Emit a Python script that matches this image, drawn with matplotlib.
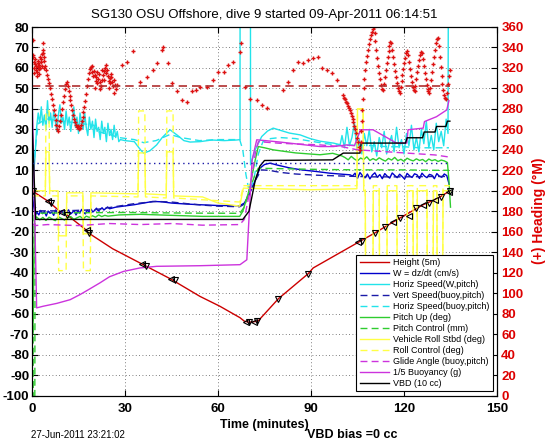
import matplotlib
matplotlib.use("Agg")
import matplotlib.pyplot as plt

plt.rcParams["font.family"] = ["Liberation Sans", "DejaVu Sans"]
plt.rcParams["axes.unicode_minus"] = False

# ---- data (time in minutes) ----
HEIGHT_T = [0, 5.3, 9, 11.2, 17.1, 18.2, 26, 35.9, 44.5, 54.2, 60.6, 67.1, 68.5, 70, 71.5, 73,
            79.5, 89.1, 90.7, 99.4, 105.8, 110.6, 116, 118.7, 126.2, 131, 134.8]
HEIGHT_V = [0, -5.2, -10.1, -11.7, -18.7, -20.6, -28.3, -36.1, -42.9, -51.6, -56.4, -62, -63.7,
            -64.2, -64, -63.5, -52.7, -40.5, -37.7, -30.2, -24.7, -20.6, -15.7, -13.3, -6.8, -3.6, 0]

TRI_LEFT_T = [5.3, 9.5, 17.6, 35.5, 44.8, 69, 71.5, 105.3, 116.5, 121.5, 126.2, 130, 134.5]
TRI_LEFT_V = [-5.2, -10.5, -19.3, -35.6, -43, -64, -64, -25, -15.2, -12.5, -7, -4.5, -0.5]
TRI_DOWN_T = [0.3, 6.2, 11.2, 18.4, 36.8, 46, 70, 72.5, 79.5, 89.1, 106.3, 110.6, 113.8, 118.7,
              124, 128, 132, 134.8]
TRI_DOWN_V = [0, -6, -11.7, -20.8, -36.5, -43.8, -64.3, -63.5, -52.7, -40.5, -24.4, -20.6, -17.8,
              -13.3, -8.5, -5.8, -3, 0]

W_T = [0, 0.5, 1.0, 1.6, 2.2, 2.8, 3.4, 4.0, 4.6, 5.2, 5.8, 6.4, 7.0, 7.6, 8.2, 8.8, 9.4, 10.0,
       10.6, 11.2, 11.8, 12.4, 13.0, 13.6, 14.2, 14.8, 15.4, 16.0, 16.6, 17.2, 17.8, 18.4, 19.0,
       19.6, 20.2, 20.8, 21.4, 22.0, 22.6, 23.2, 23.8, 24.4, 25.0,
       27, 30, 33, 36, 39, 42, 45, 50, 54, 60, 67, 68.5, 70, 72, 73.5, 75, 76.8, 79, 83, 87, 91.8,
       96, 100, 102.6,
       103.4, 104.2, 105, 105.8, 106.6, 107.4, 108.2, 109, 109.8, 110.6, 111.4, 112.2, 113, 113.8,
       114.6, 115.4, 116.2, 117, 117.8, 118.6, 119.4, 120.2, 121, 121.8, 122.6, 123.4, 124.2, 125,
       125.8, 126.6, 127.4, 128.2, 129, 129.8, 130.6, 131.4, 132.2, 133, 133.8, 134.6]
W_V = [0, -7, -12, -10.5, -11.8, -9.6, -11.2, -10.1, -12.3, -9.9, -11, -10.4, -12, -9.4, -10.9,
       -11.6, -9.8, -10.7, -12.1, -10.2, -9.3, -11.4, -10.6, -9.7, -11.8, -10, -10.9, -9.1, -10.5,
       -11.3, -9.5, -10.2, -8.8, -10.4, -9.6, -8.5, -9.9, -9.1, -8.3, -9.4, -8.6, -7.9, -8.8,
       -8, -7.4, -6.8, -6, -5.2, -5.4, -6, -6.5, -6.8, -7.2, -7.3, -6, -2, 5, 11, 12.8, 13.5, 12.6,
       11.2, 10.2, 9.4, 8.6, 8.1, 7.8,
       7.2, 8.6, 6.1, 8.9, 7.4, 6.3, 8.2, 5.8, 7.7, 8.8, 6.6, 7.9, 5.9, 8.4, 7.1, 6.2, 8.7, 7.5,
       6.4, 8.1, 7, 5.7, 8.5, 7.3, 6.5, 8.3, 7.8, 6, 8.6, 7.2, 6.4, 8, 7.6, 5.9, 8.4, 7.1, 6.6,
       8.2, 7.4, 3]

HSPD_W_T = [0, 0.5, 1.0, 1.5, 2.0, 2.5, 3.0, 3.5, 4.0, 4.5, 5.0, 5.5, 6.0, 6.5, 7.0, 7.5, 8.0,
            8.5, 9.0, 9.5, 10.0, 10.5, 11.0, 11.5, 12.0, 12.5, 13.0, 13.5, 14.0, 14.5, 15.0, 15.5,
            16.0, 16.5, 17.0, 17.5, 18.0, 18.5, 19.0, 19.5, 20.0, 20.5, 21.0, 21.5, 22.0, 22.5,
            23.0, 23.5, 24.0, 24.5, 25.0, 25.5, 26.0, 26.5, 27.0, 27.5, 28.0, 28.5,
            30, 33, 35, 36, 38, 40.2, 42, 44.5, 47, 49, 51, 54.2, 58, 62, 66, 67.1, 67.2, 70.4,
            70.5, 72, 74.1, 76, 77.8, 80, 83, 86.5, 89.7, 93, 97.2, 99.4,
            100, 100.8, 101.6, 102.4, 103.2, 104, 104.8, 105.6, 106.4, 107.2, 108, 108.8, 109.6,
            110.4, 111.2, 112, 112.8, 113.6, 114.4, 115.2, 116, 116.8, 117.6, 118.4, 119.2, 120,
            120.8, 121.6, 122.4, 123.2, 124, 124.8, 125.6, 126.4, 127.2, 128, 128.8, 129.6, 130.4,
            131.2, 132, 132.8, 133.6, 134.2, 134.6]
HSPD_W_V = [0, 8, 17, 31, 38, 33, 41, 32, 37, 30, 44, 33, 38, 31, 39, 34, 29, 37, 42, 33, 36, 30,
            39, 32, 36, 29, 35, 41, 31, 36, 28, 38, 33, 30, 38, 31, 27, 36, 30, 34, 26, 35, 29, 31,
            25, 34, 28, 31, 24, 33, 27, 30, 25, 32, 26, 29, 24, 25,
            24.5, 24, 20, 18.4, 19.5, 22.4, 26, 29.8, 27, 24.5, 23.8, 24, 24.8, 24.5, 24.8, 25, 300,
            300, 12.7, 20, 26.5, 29.2, 30.6, 29.6, 28.2, 27.3, 25.5, 24.2, 23.3, 22.5,
            27, 21, 31, 22, 26, 33, 20, 25, 18, 28, 22, 30, 19, 24, 17, 26, 21, 29, 18, 23, 27, 19,
            31, 21, 25, 18, 28, 22, 32, 20, 26, 19, 30, 23, 34, 21, 27, 20, 33, 24, 29, 22, 35, 28,
            300]

VSPD_B_T = [0, 1, 2, 10, 20, 25, 30, 33, 40, 45, 50, 55, 60, 67, 68.5, 70, 72, 74, 76.5, 80, 85,
            92, 100, 110, 120, 130, 134.5]
VSPD_B_V = [0, -8, -9.8, -9.8, -9.3, -8.2, -7, -6.3, -5.2, -5.5, -6.3, -7, -7.5, -7.8, -6.5, -2,
            5, 10.2, 10, 9, 8.2, 7.6, 7.2, 6.8, 6.8, 7, 7]

HSPD_B_T = [0, 1, 2, 5, 10, 15, 20, 21, 25, 28, 33, 36, 40, 44.5, 48, 54, 60, 67, 68, 69, 70,
            71.5, 73, 74.5, 77, 80, 85, 90, 95, 100, 105, 110, 115, 120, 125, 130, 134.5]
HSPD_B_V = [0, 20, 33, 35, 34, 33, 32, 29, 27.5, 26, 25, 23.5, 24.5, 27.5, 26, 24.5, 25, 25, 20,
            8, 0, 5, 18, 24, 25.5, 26, 25.5, 24.2, 23, 22, 22.5, 22, 21.5, 21.5, 21, 21, 21]

PITCH_T = [0, 0.3, 0.8, 1.5, 2.5, 3.5, 4.5, 5.5, 6.5, 7.5, 8.5, 9.5, 10.5, 11.5, 12.5, 13.5,
           14.5, 15.5, 16.5, 17.5, 18.5, 19.5, 20.5, 21.5, 22.5, 23.5, 24.5,
           28, 35, 45, 55, 67, 68, 70, 72, 73, 75, 77.8, 85, 92.9, 97, 100,
           101, 102, 103, 104, 105, 106, 107, 108, 109, 110, 111, 112, 113, 114, 115, 116, 117,
           118, 119, 120, 121, 122, 123, 124, 125, 126, 127, 128, 129, 130, 131, 132, 133, 134,
           134.5, 135]
PITCH_V = [0, -70, -14, -12.8, -14.2, -13, -14.5, -12.9, -13.8, -14.6, -12.7, -13.5, -14.3,
           -13.1, -12.6, -14, -13.2, -12.5, -13.7, -12.4, -13, -12.2, -12.9, -11.8, -12.6, -12,
           -12.4,
           -11.8, -11.5, -12, -12.5, -12.5, -10, 0, 15, 21.6, 21, 20, 18.5, 17.6, 18.3, 17,
           16.2, 15.1, 16.8, 15.5, 14.6, 16, 15.3, 16.6, 14.8, 15.7, 14.9, 16.1, 15.2, 14.5, 15.8,
           15, 16.3, 14.7, 15.4, 14.4, 15.9, 15.1, 14.6, 15.6, 14.8, 15.3, 14.2, 15.5, 14.7, 15.2,
           14.3, 15, 14.6, 13.8,
           5, -8]

PITCH_CTL_T = [0, 0.3, 0.4, 0.9, 1.0, 10, 30, 50, 67, 68.5, 70, 72, 73, 80, 90, 100, 110, 120,
               130, 134.5]
PITCH_CTL_V = [-12, -12, -110, -110, -11, -10.8, -10.6, -10.9, -11, -8, 0, 8, 11, 10.8, 10.5,
               10.3, 10.2, 10.2, 10.0, 10.0]

ROLL_T = [0, 4.3, 4.5, 5.5, 5.7, 8.4, 8.6, 11, 11.2, 16.4, 16.6, 18.8, 19, 34.2, 34.4, 36.4,
          36.6, 43.3, 43.5, 45.5, 45.7, 55, 60, 67, 68.2, 75, 90, 104.8, 105, 106.8, 107,
          107.5, 107.6, 110, 110.1, 112, 112.1, 114.5, 114.6, 117.7, 117.8, 121, 121.1, 122.9,
          123, 124.2, 124.3, 127.4, 127.5, 129.4, 129.5, 130.6, 130.7, 132.5, 132.6, 134.8]
ROLL_V = [0, 0, 19, 19, 0, 0, -22, -22, -1, -1, -21, -21, -1, -1.5, 18.5, 18.5, -1.5, -2, 19,
          19, -2.5, -3, -6, -7.5, 1.3, 1, 0.5, 1, 40, 40, 0,
          0, -40, -40, 0, 0, -40, -40, 0, 0, -40, -40, 0, 0, -40, -40, 0, 0, -40, -40, 0, 0, -40,
          -40, 0, 0]

ROLL_CTL_T = [0, 4.3, 4.5, 5.5, 5.7, 8.4, 8.6, 11, 11.2, 16.4, 16.6, 18.8, 19, 34.2, 34.4,
              36.4, 36.6, 43.3, 43.5, 45.5, 45.7, 67, 68.2, 104.8, 105, 106.8, 107,
              107.5, 107.6, 110, 110.1, 112, 112.1, 114.5, 114.6, 117.7, 117.8, 121, 121.1,
              122.9, 123, 124.2, 124.3, 127.4, 127.5, 129.4, 129.5, 130.6, 130.7, 132.5, 132.6,
              134.8]
ROLL_CTL_V = [-2.5, -2.5, 39, 39, -2.5, -2.5, -39, -39, -2.5, -2.5, -39, -39, -2.5, -3, 39, 39,
              -3, -3.5, 39, 39, -3.5, -5.5, 2.5, 2.5, 40, 40, 2.5,
              2.5, -38, -38, 2.5, 2.5, -38, -38, 2.5, 2.5, -38, -38, 2.5, 2.5, -38, -38, 2.5,
              2.5, -38, -38, 2.5, 2.5, -38, -38, 2.5, 2.5]

GLIDE_T = [0, 1, 5, 15, 25, 35, 45, 55, 67, 68.5, 70, 72, 73, 80, 93, 100, 105, 110, 120, 130,
           134.5]
GLIDE_V = [-16, -17, -16.5, -17, -16, -16.5, -16, -16.8, -16.5, -14, -2, 18, 24, 23.2, 22.4,
           21.5, 20, 19.5, 18.5, 17.5, 16.5]

BUOY_T = [0, 0.3, 1.5, 3.6, 8, 12.3, 15.5, 18, 21.9, 25, 29.5, 34.8, 40.2, 54.2, 67.1, 69.3,
          69.8, 71, 72.5, 80, 92.9, 97.2, 101.5, 104, 106, 110, 117.6, 120.9, 121.3, 126.2,
          126.6, 130.5, 133.8, 134.5]
BUOY_V = [48, 30, -57.2, -56.4, -55, -53.2, -50.7, -48.5, -45, -42, -39.4, -37.7, -36.9, -36.6,
          -36.1, -33.7, -19, 15, 24.9, 23.8, 21.6, 21.6, 22.4, 22, 29.8, 29.8, 23.3, 23.3, 29.8,
          30.6, 33.8, 36.2, 39.5, 44]

VBD_T = [0, 1.2, 68, 70, 72, 73.5, 75, 97, 100.4, 105.8, 106.2, 120.5, 121, 126, 126.5, 130,
         130.5, 133.5, 134, 134.8]
VBD_V = [34, -14, -14, -10, 5, 12, 14.8, 15.1, 18.4, 18.4, 23.3, 23.3, 25.9, 25.9, 28.7, 28.7,
         31.4, 31.4, 34, 34]

# heading, degrees magnetic (right axis)
HEAD_T = [0.2, 0.4, 0.6, 0.8, 1.0, 1.2, 1.4, 1.6, 1.8, 2.0, 2.2, 2.4, 2.6, 2.8, 3.0, 3.2, 3.4,
          3.6, 3.8, 4.0, 4.3, 4.6, 4.9, 5.2, 5.5, 5.8, 6.1, 6.4, 6.7, 7.0, 7.3, 7.6, 7.9, 8.2,
          8.5, 8.8, 9.1, 9.4, 9.7, 10.0, 10.3, 10.6, 10.9, 11.2, 11.5, 11.8, 12.1, 12.4, 12.7,
          13.0, 13.3, 13.6, 13.9, 14.2, 14.5, 14.8, 15.1, 15.4, 15.7, 16.0, 16.3, 16.6, 16.9,
          17.2, 17.5, 17.8, 18.1, 18.4, 18.7, 19.0, 19.3, 19.6, 19.9, 20.2, 20.5, 20.8, 21.1,
          21.4, 21.7, 22.0, 22.3, 22.6, 22.9, 23.2, 23.5, 23.8, 24.1, 24.4, 24.7, 25.0, 25.3,
          25.6, 25.9, 26.2, 26.5, 26.8, 27.1, 27.4,
          0.3, 0.7, 1.1, 1.5, 1.9, 2.3, 2.7, 3.1, 3.5, 3.9, 19.5, 20.3, 21.0, 21.8, 22.5, 23.3,
          24.0, 24.8, 25.5, 26.3,
          28.9, 30.5, 32.6, 34.8, 37, 39, 40.2, 41.8, 42.4, 44, 45, 46.7, 48.3, 49.9, 51.5, 53,
          54.2, 56.3, 58.5, 60.1, 61.8, 63.3, 64.9, 67.1, 67.3, 68.7, 70.3, 72.5, 74.1, 75.7,
          81, 82.7, 84.3, 85.9, 87.5, 89.1, 90.7, 92.4, 93.4, 95, 96.7, 98.3,
          100.4, 100.7, 101.0, 101.3, 101.6, 101.9, 102.2, 102.5, 102.8, 103.1, 103.4, 103.7,
          104.0, 104.3, 104.6, 104.9, 105.2, 105.5, 105.8, 106.0, 106.2, 106.4, 106.6, 106.8,
          107.0, 107.2,
          107.5, 107.8, 108.1, 108.4, 108.7, 109.0, 109.3, 109.6, 109.9, 110.2,
          110.5, 110.8, 111.1, 111.4, 111.7, 112.0, 112.3, 112.6, 112.9, 113.2,
          113.5, 113.8, 114.1, 114.4, 114.7, 115.0, 115.3, 115.6, 115.9, 116.2,
          116.5, 116.8, 117.1, 117.4, 117.7, 118.0, 118.3, 118.6, 118.9, 119.2,
          119.5, 119.8, 120.1, 120.4, 120.7, 121.0, 121.3, 121.6, 121.9, 122.2,
          122.5, 122.8, 123.1, 123.4, 123.7, 124.0, 124.3, 124.6, 124.9, 125.2,
          125.5, 125.8, 126.1, 126.4, 126.7, 127.0, 127.3, 127.6, 127.9, 128.2,
          128.5, 128.8, 129.1, 129.4, 129.7, 130.0, 130.3, 130.6, 130.9, 131.2,
          131.5, 131.8, 132.1, 132.4, 132.7, 133.0, 133.3, 133.6, 133.9, 134.2,
          134.5, 134.8]
HEAD_V = [347, 333, 326, 320, 324, 318, 322, 316, 321, 325, 319, 323, 320, 326, 329, 334, 338,
          335, 331, 327, 322, 318, 313, 309, 305, 300, 295, 290, 284, 279, 274, 269, 264, 260,
          258, 263, 268, 274, 280, 287, 293, 299, 304, 306, 302, 297, 293, 289, 284, 279, 274,
          270, 267, 264, 262, 263, 260, 261, 264, 268, 272, 277, 282, 288, 295, 302, 309, 315,
          319, 321, 316, 312, 317, 313, 307, 311, 305, 309, 314, 306, 302, 308, 313, 317, 320,
          315, 318, 312, 307, 310, 305, 311, 306, 302, 308, 303, 299, 303,
          331, 315, 329, 312, 327, 314, 331, 322, 344, 320, 322, 300, 316, 299, 318, 308,
          323, 300, 314, 296,
          323, 326, 337, 306, 311, 318, 324.5, 337.5, 340, 324.5, 305, 297, 289, 287, 297, 298,
          301.7, 301.7, 308, 316, 316, 323, 326, 336, 344, 301.7, 290, 288.7, 283.8, 280.6,
          298.5, 306.6, 318, 326, 324.5, 327.8, 329.4, 331, 319.6, 318, 314.8, 308.2,
          293.6, 291, 290, 287, 286, 283, 281, 279, 276, 273, 270, 267,
          263, 260, 256, 252, 248, 243, 240, 248, 258, 268, 279, 290,
          300, 309,
          318, 326, 332, 338, 343, 348, 352, 355, 358, 360,
          354, 346, 338, 330, 322, 315, 309, 303, 299, 298,
          304, 311, 318, 325, 331, 337, 341, 345, 344, 338,
          331, 324, 317, 311, 305, 300, 297, 296, 301, 307,
          313, 319, 325, 330, 335, 337, 333, 326, 319, 312,
          306, 301, 298, 297, 302, 309, 316, 322, 328, 333,
          336, 335, 329, 322, 315, 309, 303, 299, 297, 296,
          300, 308, 316, 324, 331, 338, 344, 348, 349, 341,
          331, 321, 312, 304, 298, 294, 291, 290, 296, 304,
          312, 318]

TARGET_HEADING = 302
W_REF = 13.7

LABELS = ["Height (5m)", "W = dz/dt (cm/s)", "Horiz Speed(W,pitch)", "Vert Speed(buoy,pitch)",
          "Horiz Speed(buoy,pitch)", "Pitch Up (deg)", "Pitch Control (mm)",
          "Vehicle Roll Stbd (deg)", "Roll Control (deg)", "Glide Angle (buoy,pitch)",
          "1/5 Buoyancy (g)", "VBD (10 cc)"]

RED = "#cc0000"
BLUE = "#0000cc"
NAVY = "#1a1aa8"
CYAN = "#22e3ea"
GREEN = "#2fcc2f"
YELLOW = "#ffff45"
MAGENTA = "#cc33dd"
DASH = (0, (5, 3))
TICK_FS = 9.5

fig = plt.figure(figsize=(5.46, 4.42), dpi=100)
ax = fig.add_axes([32 / 546, 1 - 395.5 / 442, 465 / 546, 368.5 / 442])

lw = 1.0
h_height, = ax.plot(HEIGHT_T, HEIGHT_V, color=RED, lw=lw)
h_w, = ax.plot(W_T, W_V, color=BLUE, lw=lw)
h_hw, = ax.plot(HSPD_W_T, HSPD_W_V, color=CYAN, lw=lw)
h_vb, = ax.plot(VSPD_B_T, VSPD_B_V, color=NAVY, lw=lw, ls=DASH)
h_hb, = ax.plot(HSPD_B_T, HSPD_B_V, color=CYAN, lw=lw, ls=DASH)
h_pitch, = ax.plot(PITCH_T, PITCH_V, color=GREEN, lw=lw)
h_pctl, = ax.plot(PITCH_CTL_T, PITCH_CTL_V, color=GREEN, lw=lw, ls=DASH)
h_roll, = ax.plot(ROLL_T, ROLL_V, color=YELLOW, lw=lw)
h_rctl, = ax.plot(ROLL_CTL_T, ROLL_CTL_V, color=YELLOW, lw=lw, ls=DASH)
h_glide, = ax.plot(GLIDE_T, GLIDE_V, color=MAGENTA, lw=lw, ls=DASH)
h_buoy, = ax.plot(BUOY_T, BUOY_V, color=MAGENTA, lw=lw)
h_vbd, = ax.plot(VBD_T, VBD_V, color="black", lw=lw)

ax.plot(TRI_LEFT_T, TRI_LEFT_V, ls="none", marker="<", ms=4.5, mfc="none", mec="black", mew=0.8)
ax.plot(TRI_DOWN_T, TRI_DOWN_V, ls="none", marker="v", ms=4.5, mfc="none", mec="black", mew=0.8)
ax.hlines(W_REF, HEIGHT_T[0], HEIGHT_T[-1], color=NAVY, lw=1.0, linestyles=(0, (1, 2.5)))

ax.set_xlim(0, 150)
ax.set_ylim(-100, 80)
ax.set_xticks(range(0, 151, 30))
ax.set_yticks(range(-100, 81, 10))
ax.grid(True, ls=(0, (1, 3)), color="#555555", lw=0.6)
ax.set_axisbelow(True)
ax.tick_params(direction="in", length=4, top=True, right=False, labelsize=TICK_FS)
ax.tick_params(axis="x", pad=5.5)
ax.tick_params(axis="y", pad=2)
for lab in ax.get_xticklabels() + ax.get_yticklabels():
    lab.set_fontweight("bold")

ax2 = ax.twinx()
ax2.plot(HEAD_T, HEAD_V, ls="none", marker="+", ms=3.5, mew=1.0, color="#dd1111")
ax2.hlines(TARGET_HEADING, HEIGHT_T[0], HEIGHT_T[-1], color="#b03030", lw=1.2, linestyles=DASH)
ax2.set_ylim(0, 360)
ax2.set_yticks(range(0, 361, 20))
ax2.tick_params(direction="in", length=4, labelsize=TICK_FS, labelcolor="#dd0000", pad=3)
for lab in ax2.get_yticklabels():
    lab.set_fontweight("bold")
ax2.set_ylabel("(+) Heading (°M)", color="#dd0000", fontsize=10, fontweight="bold", labelpad=6)

handles = [h_height, h_w, h_hw, h_vb, h_hb, h_pitch, h_pctl, h_roll, h_rctl, h_glide, h_buoy, h_vbd]
leg = ax2.legend(handles, LABELS, loc="lower right", bbox_to_anchor=(0.9914, 0.0122),
                 borderaxespad=0, fontsize=6.5, handlelength=3.3, handletextpad=0.45,
                 labelspacing=0.22, borderpad=0.35, fancybox=False, framealpha=1)
leg.get_frame().set_edgecolor("black")
leg.get_frame().set_linewidth(0.8)

ax.set_xlabel("Time (minutes)", fontsize=9, fontweight="bold", labelpad=3)
fig.text(264 / 546, 1 - 14.6 / 442, "SG130 OSU Offshore, dive 9 started 09-Apr-2011 06:14:51",
         ha="center", va="center", fontsize=9.5)
fig.text(31 / 546, 1 - 434.5 / 442, "27-Jun-2011 23:21:02", ha="left", va="center", fontsize=7)
fig.text(307 / 546, 1 - 434.5 / 442, "VBD bias =0 cc", ha="left", va="center", fontsize=9,
         fontweight="bold")

fig.savefig("out.png", dpi=100)
